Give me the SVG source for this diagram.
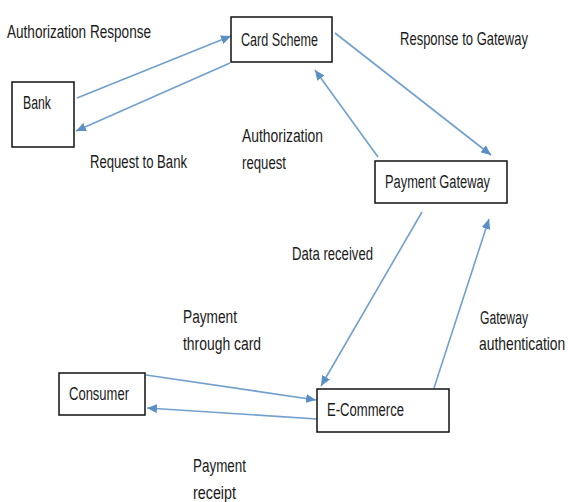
<svg xmlns="http://www.w3.org/2000/svg" width="568" height="502" viewBox="0 0 568 502">
<style>
  .box { fill: #ffffff; stroke: #111111; stroke-width: 1.5; }
  .t { font-family: "Liberation Sans", Arial, sans-serif; font-size: 18px; fill: #1a1a1a; }
  .c { stroke: #729fce; stroke-width: 1.6; fill: none; marker-end: url(#ah); }
</style>
<defs>
  <marker id="ah" markerUnits="userSpaceOnUse" markerWidth="11" markerHeight="9" refX="10" refY="4.5" orient="auto">
    <path d="M0,0 L10,4.5 L0,9 z" fill="#5b8fc6"/>
  </marker>
</defs>
<rect width="568" height="502" fill="#ffffff"/>
<g id="connectors">
  <line class="c" x1="77" y1="98" x2="231" y2="36"/>
  <line class="c" x1="230" y1="63" x2="76" y2="131"/>
  <line class="c" x1="335" y1="33" x2="491" y2="155"/>
  <line class="c" x1="378" y1="157" x2="315" y2="70"/>
  <line class="c" x1="422" y1="212" x2="321" y2="386"/>
  <line class="c" x1="434" y1="388" x2="489" y2="219"/>
  <line class="c" x1="146" y1="375" x2="316" y2="400"/>
  <line class="c" x1="317" y1="419" x2="147" y2="408"/>
</g>
<g id="labels">
  <text class="t" x="7" y="38" textLength="144" lengthAdjust="spacingAndGlyphs">Authorization Response</text>
  <text class="t" transform="translate(400,45) scale(0.723,1)" textLength="177" lengthAdjust="spacingAndGlyphs">Response to Gateway</text>
  <text class="t" x="90" y="168" textLength="97" lengthAdjust="spacingAndGlyphs">Request to Bank</text>
  <text class="t" x="242" y="142" textLength="81" lengthAdjust="spacingAndGlyphs">Authorization</text>
  <text class="t" x="242" y="169" textLength="44" lengthAdjust="spacingAndGlyphs">request</text>
  <text class="t" x="292" y="260" textLength="81" lengthAdjust="spacingAndGlyphs">Data received</text>
  <text class="t" x="183" y="323" textLength="54" lengthAdjust="spacingAndGlyphs">Payment</text>
  <text class="t" x="183" y="350" textLength="78" lengthAdjust="spacingAndGlyphs">through card</text>
  <text class="t" x="480" y="324" textLength="48" lengthAdjust="spacingAndGlyphs">Gateway</text>
  <text class="t" transform="translate(479,350) scale(0.77,1)" textLength="112" lengthAdjust="spacingAndGlyphs">authentication</text>
  <text class="t" x="193" y="472" textLength="53" lengthAdjust="spacingAndGlyphs">Payment</text>
  <text class="t" x="193" y="499" textLength="43" lengthAdjust="spacingAndGlyphs">receipt</text>
</g>
<g id="card-scheme">
  <rect class="box" x="231" y="17" width="101" height="45"/>
  <text class="t" x="241" y="46" textLength="77" lengthAdjust="spacingAndGlyphs">Card Scheme</text>
</g>
<g id="bank">
  <rect class="box" x="12" y="82" width="62" height="65"/>
  <text class="t" x="23" y="109" textLength="28" lengthAdjust="spacingAndGlyphs">Bank</text>
</g>
<g id="payment-gateway">
  <rect class="box" x="375" y="161" width="132" height="42"/>
  <text class="t" x="385" y="188" textLength="105" lengthAdjust="spacingAndGlyphs">Payment Gateway</text>
</g>
<g id="consumer">
  <rect class="box" x="59" y="373" width="86" height="42"/>
  <text class="t" x="69" y="400" textLength="60" lengthAdjust="spacingAndGlyphs">Consumer</text>
</g>
<g id="e-commerce">
  <rect class="box" x="317" y="389" width="132" height="43"/>
  <text class="t" x="327" y="416" textLength="77" lengthAdjust="spacingAndGlyphs">E-Commerce</text>
</g>
</svg>
